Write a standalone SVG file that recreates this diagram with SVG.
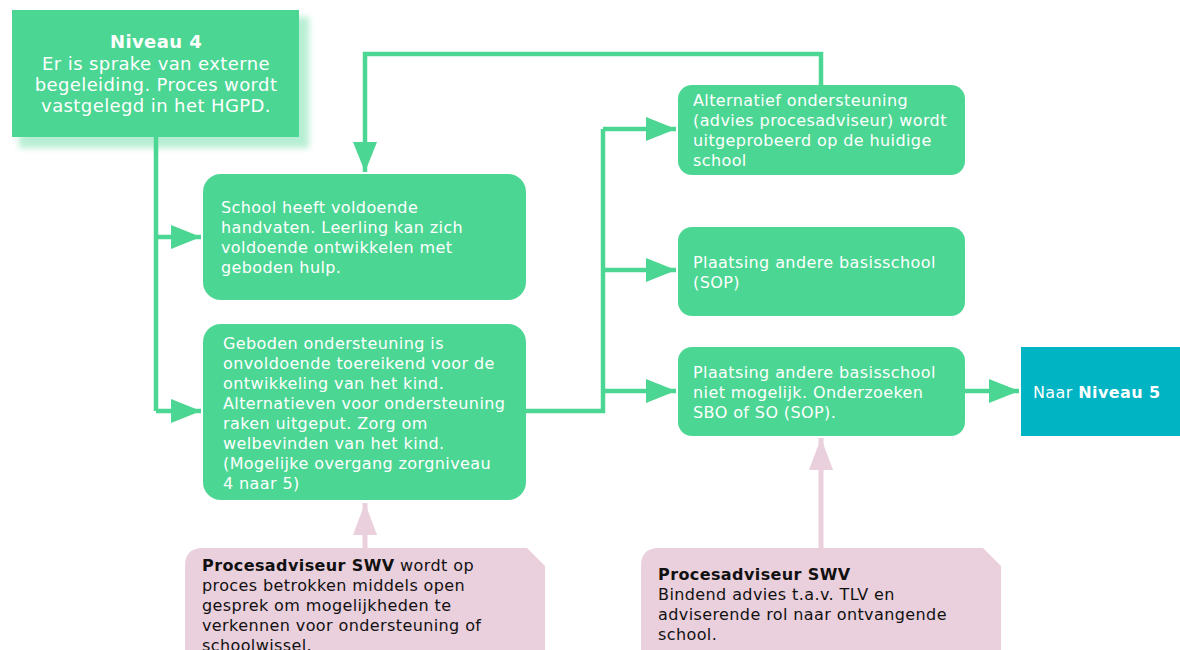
<svg xmlns="http://www.w3.org/2000/svg" width="1180" height="650" viewBox="0 0 1180 650">
<defs>
<marker id="ag" markerUnits="userSpaceOnUse" markerWidth="32" markerHeight="24" refX="30" refY="12" orient="auto"><path d="M0,0 L30,12 L0,24 Z" fill="#4bd693"/></marker>
<marker id="ap" markerUnits="userSpaceOnUse" markerWidth="34" markerHeight="24" refX="32" refY="12" orient="auto"><path d="M0,0 L32,12 L0,24 Z" fill="#eacfdc"/></marker>
<filter id="sh" x="-10%" y="-10%" width="130%" height="140%"><feGaussianBlur stdDeviation="3"/></filter>
</defs>
<style>
.g{fill:#4bd693}
.t{font-family:"DejaVu Sans",Verdana,sans-serif;font-size:16px;letter-spacing:0.4px;fill:#ffffff}
.tb{font-family:"DejaVu Sans",Verdana,sans-serif;font-size:16px;letter-spacing:0.4px;fill:#111111}
.big{font-size:18px}
.c{fill:none;stroke:#4bd693;stroke-width:4.5}
.cp{fill:none;stroke:#eacfdc;stroke-width:5}
.p{fill:#eacfdc}
</style>
<rect width="1180" height="650" fill="#ffffff"/>
<g id="connectors">
<path class="c" d="M156,137 V411"/>
<path class="c" d="M156,237 H201" marker-end="url(#ag)"/>
<path class="c" d="M156,411 H201" marker-end="url(#ag)"/>
<path class="c" d="M526,411 H603 V129"/>
<path class="c" d="M603,129 H676" marker-end="url(#ag)"/>
<path class="c" d="M603,270 H676" marker-end="url(#ag)"/>
<path class="c" d="M603,391 H676" marker-end="url(#ag)"/>
<path class="c" d="M965,391 H1019" marker-end="url(#ag)"/>
<path class="c" d="M821,85 V54 H365 V172" marker-end="url(#ag)"/>
<path class="cp" d="M365,548 V503" marker-end="url(#ap)"/>
<path class="cp" d="M821,548 V438" marker-end="url(#ap)"/>
</g>
<g id="niveau4">
<rect x="19" y="17" width="290" height="131" fill="#4bd693" opacity="0.4" filter="url(#sh)"/>
<rect x="12" y="10" width="287" height="127" class="g"/>
<text class="t big" x="156" y="48" text-anchor="middle" font-weight="bold">Niveau 4</text>
<text class="t big" x="156" y="70" text-anchor="middle">Er is sprake van externe</text>
<text class="t big" x="156" y="91" text-anchor="middle">begeleiding. Proces wordt</text>
<text class="t big" x="156" y="112" text-anchor="middle">vastgelegd in het HGPD.</text>
</g>
<g id="box1">
<rect x="203" y="174" width="323" height="126" rx="18" class="g"/>
<text class="t" x="221" y="213">School heeft voldoende</text>
<text class="t" x="221" y="233">handvaten. Leerling kan zich</text>
<text class="t" x="221" y="253">voldoende ontwikkelen met</text>
<text class="t" x="221" y="273">geboden hulp.</text>
</g>
<g id="box2">
<rect x="203" y="324" width="323" height="176" rx="18" class="g"/>
<text class="t" x="223" y="349">Geboden ondersteuning is</text>
<text class="t" x="223" y="369">onvoldoende toereikend voor de</text>
<text class="t" x="223" y="389">ontwikkeling van het kind.</text>
<text class="t" x="223" y="409">Alternatieven voor ondersteuning</text>
<text class="t" x="223" y="429">raken uitgeput. Zorg om</text>
<text class="t" x="223" y="449">welbevinden van het kind.</text>
<text class="t" x="223" y="469">(Mogelijke overgang zorgniveau</text>
<text class="t" x="223" y="489">4 naar 5)</text>
</g>
<g id="box3">
<rect x="678" y="85" width="287" height="90" rx="14" class="g"/>
<text class="t" x="693" y="106">Alternatief ondersteuning</text>
<text class="t" x="693" y="126">(advies procesadviseur) wordt</text>
<text class="t" x="693" y="146">uitgeprobeerd op de huidige</text>
<text class="t" x="693" y="166">school</text>
</g>
<g id="box4">
<rect x="678" y="227" width="287" height="89" rx="14" class="g"/>
<text class="t" x="693" y="268">Plaatsing andere basisschool</text>
<text class="t" x="693" y="288">(SOP)</text>
</g>
<g id="box5">
<rect x="678" y="347" width="287" height="89" rx="14" class="g"/>
<text class="t" x="693" y="378">Plaatsing andere basisschool</text>
<text class="t" x="693" y="398">niet mogelijk. Onderzoeken</text>
<text class="t" x="693" y="418">SBO of SO (SOP).</text>
</g>
<g id="niveau5">
<rect x="1021" y="347" width="159" height="89" fill="#00b4c3"/>
<text class="t" x="1033" y="398">Naar <tspan font-weight="bold">Niveau 5</tspan></text>
</g>
<g id="advies1">
<path class="p" d="M185,566 Q185,548 203,548 H527 L545,566 V650 H185 Z"/>
<text class="tb" x="202" y="571"><tspan font-weight="bold">Procesadviseur SWV</tspan> wordt op</text>
<text class="tb" x="202" y="591">proces betrokken middels open</text>
<text class="tb" x="202" y="611">gesprek om mogelijkheden te</text>
<text class="tb" x="202" y="631">verkennen voor ondersteuning of</text>
<text class="tb" x="202" y="651">schoolwissel.</text>
</g>
<g id="advies2">
<path class="p" d="M641,566 Q641,548 659,548 H983 L1001,566 V650 H641 Z"/>
<text class="tb" x="658" y="580" font-weight="bold">Procesadviseur SWV</text>
<text class="tb" x="658" y="600">Bindend advies t.a.v. TLV en</text>
<text class="tb" x="658" y="620">adviserende rol naar ontvangende</text>
<text class="tb" x="658" y="640">school.</text>
</g>
</svg>
